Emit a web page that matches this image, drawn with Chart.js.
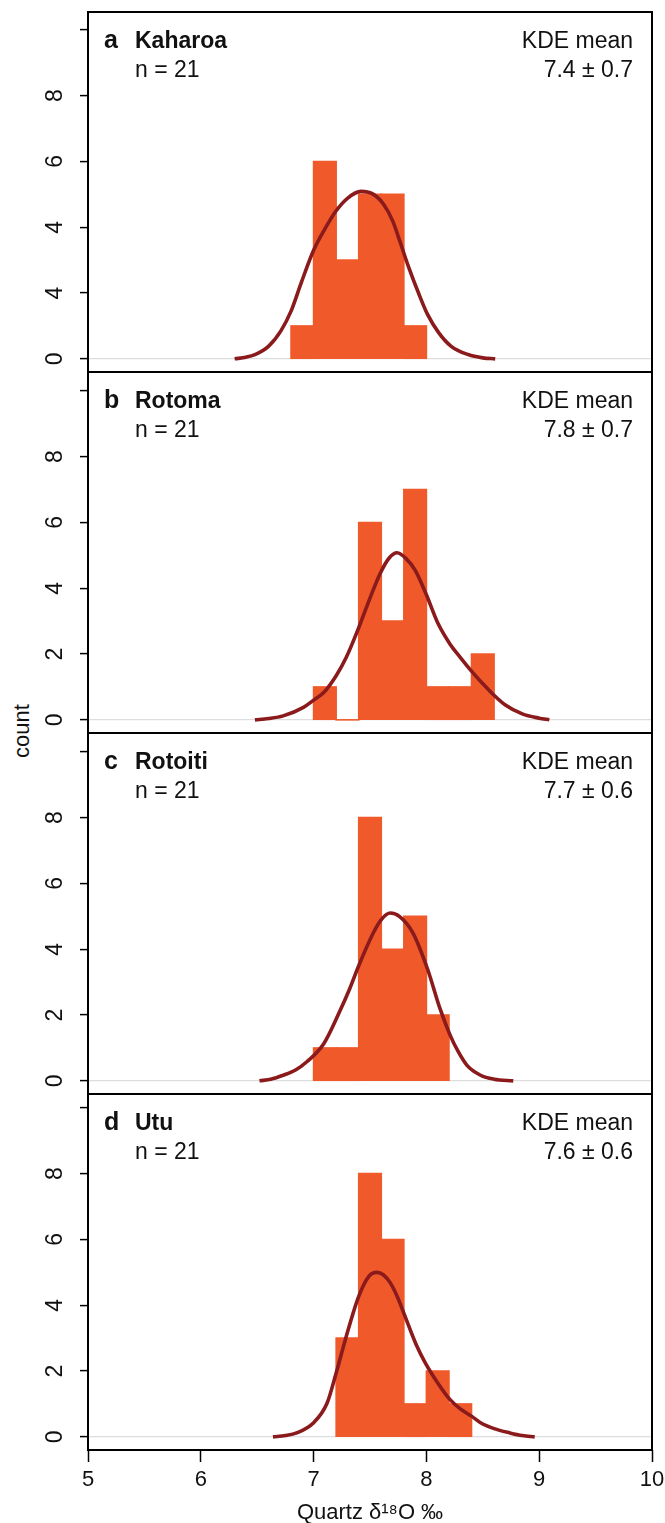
<!DOCTYPE html>
<html>
<head>
<meta charset="utf-8">
<script src="https://cdn.jsdelivr.net/npm/chart.js@4.4.0/dist/chart.umd.min.js"></script>
<style>
body { margin: 0; background: #fff; }
#wrap { position: relative; width: 665px; height: 1523px; overflow: hidden; }
#wrap canvas { position: absolute; left: 0; }
#ylab {
    position: absolute; left: 22px; top: 731px;
    transform: translate(-50%, -50%) rotate(-90deg);
    font: 22px "Liberation Sans", Arial, sans-serif; color: #111; white-space: nowrap;
}
</style>
</head>
<body>
<div id="wrap"><div id="ylab">count</div></div>
<script>
// histogram bins (lower edges) and counts, width 0.2
const binWidth = 0.2;
const binStartsA = [6.8, 7.0, 7.2, 7.4, 7.6, 7.8];
const countsA = [1, 6, 3, 5, 5, 1];
const binStartsB = [7.0, 7.2, 7.4, 7.6, 7.8, 8.0, 8.2, 8.4];
const countsB = [1, 0, 6, 3, 7, 1, 1, 2];
const binStartsC = [7.0, 7.2, 7.4, 7.6, 7.8, 8.0];
const countsC = [1, 1, 8, 4, 5, 2];
const binStartsD = [7.2, 7.4, 7.6, 7.8, 8.0, 8.2];
const countsD = [3, 8, 6, 1, 2, 1];

// KDE curves
const kdeXA = [6.30, 6.40, 6.48, 6.60, 6.71, 6.80, 6.89, 7.00, 7.10, 7.20, 7.30, 7.42, 7.52, 7.62, 7.70, 7.77, 7.84, 7.93, 8.01, 8.11, 8.22, 8.37, 8.50, 8.61];
const kdeYA = [0.00, 0.05, 0.13, 0.38, 0.85, 1.45, 2.31, 3.30, 3.95, 4.50, 4.88, 5.09, 5.02, 4.70, 4.20, 3.52, 2.81, 2.00, 1.35, 0.79, 0.38, 0.13, 0.03, 0.00];
const kdeXB = [6.48, 6.60, 6.73, 6.91, 7.00, 7.09, 7.20, 7.29, 7.40, 7.50, 7.59, 7.67, 7.74, 7.82, 7.90, 8.00, 8.10, 8.21, 8.30, 8.39, 8.50, 8.59, 8.70, 8.85, 9.00, 9.09];
const kdeYB = [0.00, 0.04, 0.12, 0.38, 0.60, 0.83, 1.34, 1.90, 2.80, 3.70, 4.45, 4.92, 5.08, 4.90, 4.55, 3.80, 2.95, 2.30, 1.90, 1.52, 1.10, 0.78, 0.45, 0.18, 0.05, 0.00];
const kdeXC = [6.52, 6.62, 6.73, 6.84, 6.94, 7.09, 7.23, 7.32, 7.40, 7.53, 7.60, 7.68, 7.76, 7.88, 8.01, 8.12, 8.21, 8.28, 8.36, 8.48, 8.60, 8.77];
const kdeYC = [0.00, 0.05, 0.17, 0.33, 0.58, 1.13, 2.10, 2.80, 3.50, 4.50, 4.90, 5.10, 5.00, 4.50, 3.40, 2.20, 1.39, 0.90, 0.47, 0.17, 0.05, 0.00];
const kdeXD = [6.64, 6.75, 6.85, 7.00, 7.12, 7.20, 7.29, 7.40, 7.49, 7.56, 7.62, 7.68, 7.75, 7.81, 7.91, 7.99, 8.12, 8.21, 8.30, 8.40, 8.48, 8.60, 8.74, 8.85, 8.96];
const kdeYD = [0.00, 0.04, 0.12, 0.43, 1.03, 1.94, 3.06, 4.27, 4.88, 5.00, 4.92, 4.68, 4.20, 3.67, 2.80, 2.25, 1.54, 1.13, 0.85, 0.63, 0.43, 0.25, 0.12, 0.04, 0.00];

// labels
const letters = ['a', 'b', 'c', 'd'];
const names = ['Kaharoa', 'Rotoma', 'Rotoiti', 'Utu'];
const nLabels = ['n = 21', 'n = 21', 'n = 21', 'n = 21'];
const kdeMeans = ['7.4 ± 0.7', '7.8 ± 0.7', '7.7 ± 0.6', '7.6 ± 0.6'];
const yTickValues = [0, 2, 4, 6, 8, 10];
const yTickLabelsA = ['0', '4', '4', '6', '8', ''];
const yTickLabels = ['0', '2', '4', '6', '8', ''];
const xTickValues = [5, 6, 7, 8, 9, 10];
const xTitle = 'Quartz δ¹⁸O ‰';

const barColor = '#f05a2a';
const curveColor = '#8a1a1b';
const frameTops = [12, 372, 733, 1094];
const frameBottoms = [372, 733, 1094, 1450];
const pxPerCount = 32.9;

Chart.defaults.font.family = '"Liberation Sans", Arial, Helvetica, sans-serif';
Chart.defaults.color = '#111';

const marcoPlugin = {
    id: 'marco',
    afterDraw(chart){
        const a = chart.chartArea;
        const ctx = chart.ctx;
        ctx.save();
        ctx.strokeStyle = '#000';
        ctx.lineWidth = 2;
        ctx.strokeRect(a.left, a.top, a.right - a.left, a.bottom - a.top);
        ctx.restore();
    }
};

function textoPlugin(i){
    return {
        id: 'texto' + i,
        afterDraw(chart){
            const a = chart.chartArea;
            const ctx = chart.ctx;
            ctx.save();
            ctx.fillStyle = '#111';
            ctx.textBaseline = 'alphabetic';
            ctx.textAlign = 'left';
            ctx.font = 'bold 25px "Liberation Sans", Arial, sans-serif';
            ctx.fillText(letters[i], a.left + 16, a.top + 36);
            ctx.font = 'bold 23px "Liberation Sans", Arial, sans-serif';
            ctx.fillText(names[i], a.left + 47, a.top + 36);
            ctx.font = '23px "Liberation Sans", Arial, sans-serif';
            ctx.fillText(nLabels[i], a.left + 47, a.top + 65);
            ctx.textAlign = 'right';
            ctx.fillText('KDE mean', a.right - 19, a.top + 36);
            ctx.fillText(kdeMeans[i], a.right - 19, a.top + 65);
            ctx.restore();
        }
    };
}

function crearPanel(i, starts, counts, kdeX, kdeY, tickLabels){
    const last = i === 3;
    const top = frameTops[i] - 10;
    const frameH = frameBottoms[i] - frameTops[i];
    const height = last ? 1523 - top : frameH + 20;

    const canvas = document.createElement('canvas');
    canvas.width = 665;
    canvas.height = height;
    canvas.style.top = top + 'px';
    canvas.style.width = '665px';
    canvas.style.height = height + 'px';
    document.getElementById('wrap').appendChild(canvas);

    const barras = starts.map((s, k) => ({x: s + binWidth / 2, y: counts[k]}));
    const curva = kdeX.map((x, k) => ({x: x, y: kdeY[k]}));

    new Chart(canvas, {
        type: 'bar',
        data: {
            datasets: [{
                type: 'line',
                data: curva,
                borderColor: curveColor,
                borderWidth: 3.6,
                pointRadius: 0,
                fill: false,
                cubicInterpolationMode: 'monotone',
                order: 0
            }, {
                type: 'bar',
                data: barras,
                backgroundColor: barColor,
                borderWidth: 0,
                barPercentage: 1,
                categoryPercentage: 1,
                inflateAmount: 0.8,
                order: 1
            }]
        },
        options: {
            responsive: false,
            maintainAspectRatio: false,
            animation: false,
            layout: {padding: {left: 0, right: 13, top: 10, bottom: last ? 0 : 10}},
            plugins: {legend: {display: false}, tooltip: {enabled: false}},
            scales: {
                x: {
                    type: 'linear',
                    min: 5,
                    max: 10,
                    offset: false,
                    display: last,
                    afterBuildTicks: s => { s.ticks = xTickValues.map(v => ({value: v})); },
                    afterFit: s => {
                        if (last) s.height = 73;
                        s.paddingLeft = 0;
                        s.paddingRight = 0;
                    },
                    grid: {
                        offset: false,
                        drawOnChartArea: false,
                        drawTicks: true,
                        tickLength: 12,
                        tickColor: '#000',
                        tickWidth: 1.5
                    },
                    border: {display: false},
                    ticks: {
                        font: {size: 22},
                        color: '#111',
                        padding: 5,
                        maxRotation: 0,
                        autoSkip: false,
                        callback: v => String(v)
                    },
                    title: {
                        display: true,
                        text: xTitle,
                        font: {size: 22, lineHeight: 0.9},
                        color: '#111',
                        padding: {top: 0, bottom: 0}
                    }
                },
                y: {
                    type: 'linear',
                    min: -0.4,
                    max: frameH / pxPerCount - 0.4,
                    afterBuildTicks: s => { s.ticks = yTickValues.map(v => ({value: v})); },
                    afterFit: s => {
                        s.width = 88;
                        s.paddingTop = 0;
                        s.paddingBottom = 0;
                    },
                    grid: {
                        drawOnChartArea: true,
                        drawTicks: true,
                        tickLength: 8,
                        tickColor: '#000',
                        tickWidth: 1.5,
                        lineWidth: 1.2,
                        color: ctx => (ctx.tick && ctx.tick.value === 0) ? '#dddddd' : 'rgba(0,0,0,0)'
                    },
                    border: {display: false},
                    ticks: {
                        font: {size: 23},
                        color: '#111',
                        padding: 18,
                        minRotation: 90,
                        maxRotation: 90,
                        crossAlign: 'center',
                        autoSkip: false,
                        callback: (v, idx) => tickLabels[idx]
                    }
                }
            }
        },
        plugins: [marcoPlugin, textoPlugin(i)]
    });
}

crearPanel(0, binStartsA, countsA, kdeXA, kdeYA, yTickLabelsA);
crearPanel(1, binStartsB, countsB, kdeXB, kdeYB, yTickLabels);
crearPanel(2, binStartsC, countsC, kdeXC, kdeYC, yTickLabels);
crearPanel(3, binStartsD, countsD, kdeXD, kdeYD, yTickLabels);
</script>
</body>
</html>
